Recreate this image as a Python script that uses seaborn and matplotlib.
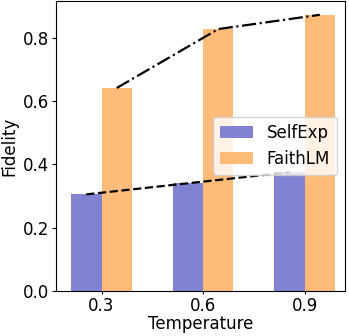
import numpy as np
import pandas as pd
import matplotlib
matplotlib.use("Agg")
import matplotlib.pyplot as plt
import seaborn as sns

# ─────────────────────────────────────────────
# DATA
# ─────────────────────────────────────────────
temperatures = ["0.3", "0.6", "0.9"]
methods      = ["SelfExp", "FaithLM"]
selfexp      = [0.305, 0.340, 0.375]
faithlm      = [0.641, 0.827, 0.872]

COLORS = {"SelfExp": "#8282d2", "FaithLM": "#ffbb78"}
LINESTYLES = {"SelfExp": "--", "FaithLM": "-."}

df = pd.DataFrame({
    "Temperature": temperatures * 2,
    "Method":      ["SelfExp"] * 3 + ["FaithLM"] * 3,
    "Fidelity":    selfexp + faithlm,
})

# ─────────────────────────────────────────────
# PLOT
# ─────────────────────────────────────────────
plt.rcParams["font.family"] = ["DejaVu Sans"]
fig, ax = plt.subplots(figsize=(3.49, 3.36), dpi=100)

sns.barplot(data=df, x="Temperature", y="Fidelity", hue="Method",
            order=temperatures, hue_order=methods, palette=COLORS,
            width=0.6, saturation=1, errorbar=None, ax=ax)

# trend lines through the bar tops of each method
for cont, name in zip(ax.containers, methods):
    xs = [p.get_x() + p.get_width() / 2 for p in cont]
    ys = [p.get_height() for p in cont]
    ax.plot(xs, ys, color="black", linestyle=LINESTYLES[name], lw=1.6, zorder=1)

ax.set_xlim(-0.45, 2.40)
ax.set_xlabel("Temperature", fontsize=12, labelpad=0)
ax.set_ylabel("Fidelity", fontsize=12, labelpad=3)
ax.tick_params(axis="x", labelsize=12, length=2.5, pad=1.5)
ax.tick_params(axis="y", labelsize=12, length=3, pad=2)
ax.set_yticks([0.0, 0.2, 0.4, 0.6, 0.8])

handles, labels = ax.get_legend_handles_labels()
ax.legend(handles, labels, loc="center right", fontsize=12, title=None)

fig.subplots_adjust(left=0.160, right=0.989, bottom=0.134, top=0.997)
fig.savefig("out.png", dpi=100)
